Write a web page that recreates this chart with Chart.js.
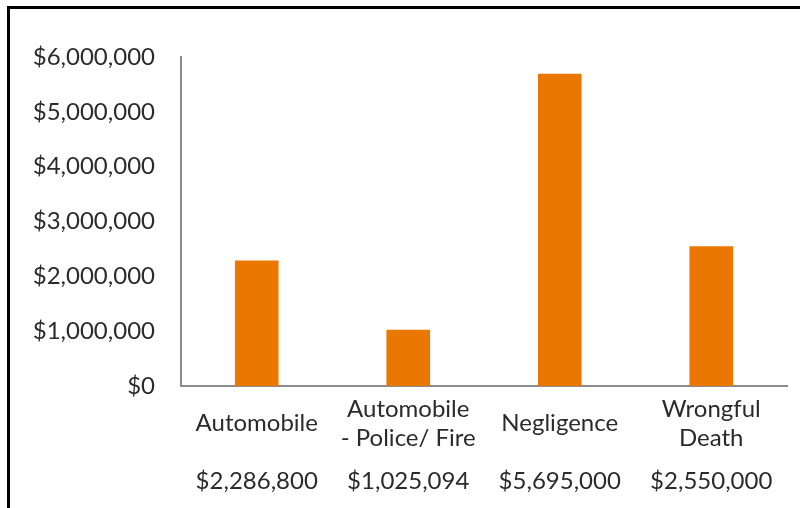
<!DOCTYPE html>
<html>
<head>
<meta charset="utf-8">
<script src="https://cdn.jsdelivr.net/npm/chart.js@4"></script>
<style>
    html, body { margin: 0; padding: 0; background: #fff; }
    #wrap { position: relative; width: 800px; height: 508px; overflow: hidden; }
    #frame {
        position: absolute; left: 7px; top: 6px; width: 900px; height: 600px;
        border-left: 3px solid #000; border-top: 3px solid #000;
    }
    #chart { position: absolute; left: 0; top: 0; }
</style>
</head>
<body>
<div id="wrap">
    <div id="frame"></div>
    <canvas id="chart" width="800" height="508"></canvas>
</div>
<script>
// Categories (line-broken like the original) and settlement totals
const categories = [
    ['Automobile'],
    ['Automobile', '- Police/ Fire'],
    ['Negligence'],
    ['Wrongful', 'Death']
];
const amounts = [2286800, 1025094, 5695000, 2550000];
const yTicks = [0, 1000000, 2000000, 3000000, 4000000, 5000000, 6000000];

const textColor = '#2b2b2b';
const barColor = '#E97700';

function money(v) {
    return '$' + Number(v).toLocaleString('en-US');
}

// lines are laid out on half-line steps so single-line names sit centred between two-line ones
function tickLines(i) {
    const name = categories[i];
    const lines = name.length === 1 ? ['', name[0], ''] : [name[0], '', name[1]];
    return lines.concat(['', '', money(amounts[i])]);
}

const ctx = document.getElementById('chart').getContext('2d');
new Chart(ctx, {
    type: 'bar',
    data: {
        labels: categories.map(c => c.join(' ')),
        datasets: [{
            data: amounts,
            backgroundColor: barColor,
            borderWidth: 0,
            categoryPercentage: 0.8,
            barPercentage: 0.36
        }]
    },
    options: {
        responsive: false,
        animation: false,
        layout: { padding: { top: 57, right: 13, left: 0, bottom: 0 } },
        plugins: {
            legend: { display: false },
            tooltip: { enabled: false }
        },
        scales: {
            x: {
                grid: { display: false, drawTicks: false },
                border: { display: true, color: '#8c8c8c', width: 2 },
                ticks: {
                    color: textColor,
                    padding: 16,
                    maxRotation: 0,
                    autoSkip: false,
                    font: { family: 'Lato', size: 24, lineHeight: '14.5px' },
                    callback: (v, i) => tickLines(i)
                },
                afterFit: s => { s.height = 122; }
            },
            y: {
                min: 0,
                max: yTicks[yTicks.length - 1],
                grid: { display: false, drawTicks: false },
                border: { display: true, color: '#8c8c8c', width: 2 },
                afterBuildTicks: s => { s.ticks = yTicks.map(v => ({ value: v })); },
                ticks: {
                    color: textColor,
                    padding: 26,
                    font: { family: 'Lato', size: 24 },
                    callback: v => money(v)
                },
                afterFit: s => { s.width = 181; }
            }
        }
    }
});
</script>
</body>
</html>
